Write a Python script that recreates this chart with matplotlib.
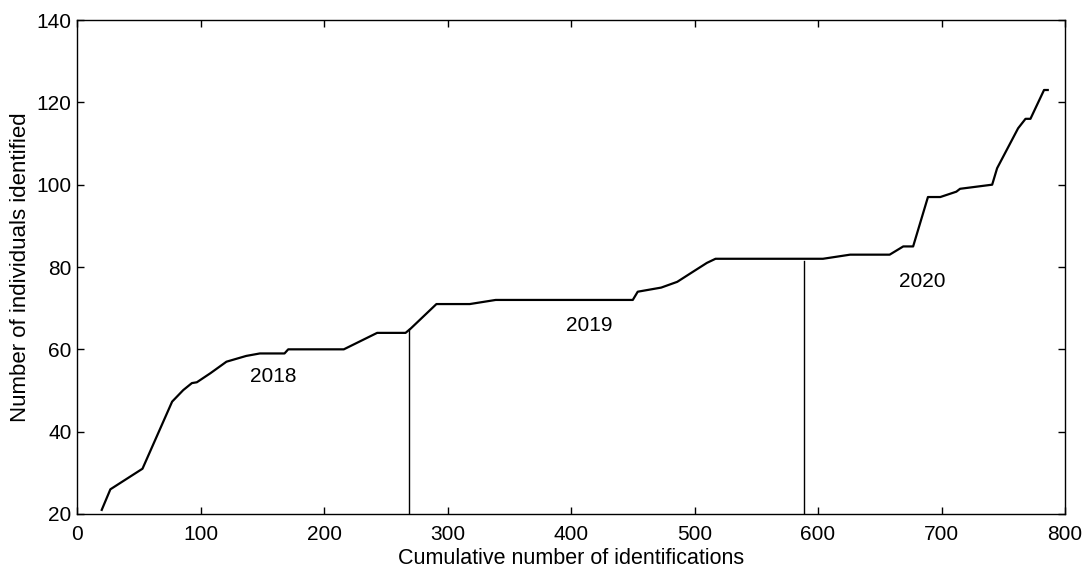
import numpy as np
from matplotlib import pyplot as plt

plt.rcParams['font.family'] = ['Liberation Sans', 'DejaVu Sans']

# cumulative identifications vs. individuals identified (discovery curve)
cum_ids = [20, 27, 53, 77, 86, 93, 97, 108, 121, 137, 148, 168, 171, 216,
           243, 266, 270, 291, 318, 339, 450, 454, 473, 486, 499, 510, 517,
           604, 626, 658, 669, 677, 689, 699, 712, 715, 741, 745, 762, 768,
           772, 783, 786]
individuals = [21, 26, 31, 47.3, 50.1, 51.8, 52, 54.2, 57, 58.4, 59, 59, 60, 60,
               64, 64, 65, 71, 71, 72, 72, 74, 75, 76.4, 78.9, 81, 82,
               82, 83, 83, 85, 85, 97, 97, 98.3, 99, 100, 104, 113.7, 116,
               116, 123, 123]

# year boundaries
year_breaks = [269, 589]
break_tops = [65, 81.5]
year_labels = ['2018', '2019', '2020']
label_x = [159, 415, 684]
label_y = [53.3, 65.9, 76.6]

fig = plt.figure(figsize=(10.85, 5.72), dpi=100)
ax = fig.add_axes([0.071, 0.1014, 0.9106, 0.8636])

ax.plot(cum_ids, individuals, color='black', lw=1.6)
for xb, top in zip(year_breaks, break_tops):
    ax.plot([xb, xb], [20, top], color='black', lw=1.0)

for lab, x, y in zip(year_labels, label_x, label_y):
    ax.text(x, y, lab, ha='center', va='center', fontsize=15)

ax.set_xlim(0, 800)
ax.set_ylim(20, 140)
ax.set_xticks(np.arange(0, 801, 100))
ax.set_yticks(np.arange(20, 141, 20))
ax.tick_params(direction='in', top=True, right=True, length=5, width=1,
               labelsize=15)
ax.tick_params(axis='x', pad=8)
ax.tick_params(axis='y', pad=4)
for s in ax.spines.values():
    s.set_linewidth(1.0)

ax.set_xlabel('Cumulative number of identifications', fontsize=15.5, labelpad=3)
ax.set_ylabel('Number of individuals identified', fontsize=16, labelpad=4)

fig.savefig('out.png', dpi=100)
